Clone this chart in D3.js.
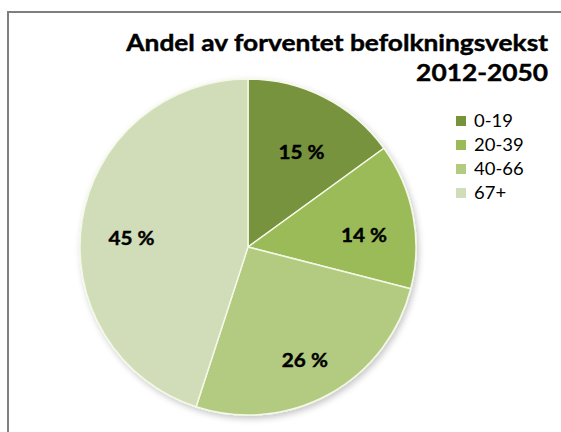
<!DOCTYPE html>
<html><head><meta charset="utf-8">
<script src="https://cdn.jsdelivr.net/npm/d3@7"></script>
<style>body{margin:0;background:#fff}svg{display:block}</style>
</head><body>
<script>
const categories = ["0-19", "20-39", "40-66", "67+"];
const values = [15, 14, 26, 45];
const labels = ["15 %", "14 %", "26 %", "45 %"];
const colors = ["#77933c", "#9bbb59", "#b3cb80", "#d0ddb8"];
const titleLines = ["Andel av forventet befolkningsvekst", "2012-2050"];

const W = 561, H = 432;
const FONT = "Lato, 'Open Sans', sans-serif";
const SX = 1.12; // horizontal widening to match the reference glyph widths
const svg = d3.select("body").append("svg").attr("width", W).attr("height", H);

const defs = svg.append("defs");
const f = defs.append("filter").attr("id", "sh").attr("x", "-10%").attr("y", "-10%").attr("width", "130%").attr("height", "130%");
f.append("feDropShadow").attr("dx", 2).attr("dy", 3).attr("stdDeviation", 3).attr("flood-color", "#000").attr("flood-opacity", 0.22);

// frame
svg.append("path").attr("d", `M8,${H} L8,12 L${W},12`).attr("fill", "none").attr("stroke", "#7f7f7f").attr("stroke-width", 2);

const cx = 248, cy = 247, R = 168;
const pie = d3.pie().sort(null).value(d => d);
const arcs = pie(values);
const arc = d3.arc().innerRadius(0).outerRadius(R);
const labelArc = d3.arc().innerRadius(118).outerRadius(118);

const g = svg.append("g").attr("transform", `translate(${cx},${cy})`);
g.append("g").attr("filter", "url(#sh)").selectAll("path").data(arcs).join("path")
  .attr("d", arc).attr("fill", (d, i) => colors[i])
  .attr("stroke", "#f4f8e6").attr("stroke-width", 1.5);

g.selectAll("text.lbl").data(arcs).join("text").attr("class", "lbl")
  .attr("transform", d => { const c = labelArc.centroid(d); return `translate(${c[0]},${c[1] + 10}) scale(${SX},1)`; })
  .attr("text-anchor", "middle").attr("dy", "0.36em")
  .style("font-family", FONT).style("font-weight", "bold").style("font-size", "18.5px")
  .attr("fill", "#000").attr("stroke", "#000").attr("stroke-width", 0.4).text((d, i) => labels[i]);

// title
svg.selectAll("text.title").data(titleLines).join("text").attr("class", "title")
  .attr("transform", (d, i) => `translate(548,${51 + i * 30}) scale(${SX},1)`).attr("text-anchor", "end")
  .style("font-family", FONT).style("font-weight", "bold").style("font-size", "23.5px")
  .attr("fill", "#000").attr("stroke", "#000").attr("stroke-width", 0.45).text(d => d);

// legend
const lg = svg.append("g").attr("transform", "translate(456,121)");
const items = lg.selectAll("g").data(categories).join("g").attr("transform", (d, i) => `translate(0,${i * 24})`);
items.append("rect").attr("x", 0).attr("y", -5).attr("width", 10).attr("height", 10).attr("fill", (d, i) => colors[i]);
items.append("text").attr("transform", `translate(18,0) scale(${SX},1)`).attr("dy", "0.36em")
  .style("font-family", FONT).style("font-size", "16.5px").attr("fill", "#000").text(d => d);
</script>
</body></html>
